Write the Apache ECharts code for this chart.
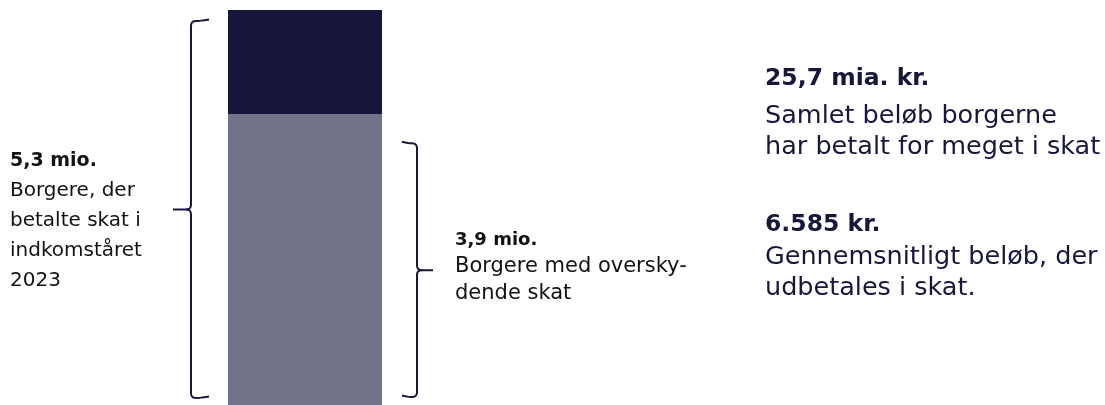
<!DOCTYPE html>
<html>
<head>
<meta charset="utf-8">
<script src="https://cdn.jsdelivr.net/npm/echarts@6/dist/echarts.min.js"></script>
<style>
html,body{margin:0;padding:0;background:#fff;}
#c{width:1105px;height:405px;}
</style>
</head>
<body>
<div id="c"></div>
<script>
// ---- data ----
const categories = ['Borgere 2023'];
const overskydendeSkat = [3.9];   // mio. borgere med overskydende skat
const oevrigeBorgere = [1.4];     // resten af de 5,3 mio.
const totalBorgere = 5.3;
const leftLines = ['5,3 mio.', 'Borgere, der', 'betalte skat i', 'indkomståret', '2023'];
const midLines = ['3,9 mio.', 'Borgere med oversky-', 'dende skat'];
const rightBlock1 = ['25,7 mia. kr.', 'Samlet beløb borgerne', 'har betalt for meget i skat'];
const rightBlock2 = ['6.585 kr.', 'Gennemsnitligt beløb, der', 'udbetales i skat.'];

const NAVY = '#17173d';
const GREY = '#727289';
const FONT = '"DejaVu Sans", sans-serif';

const chart = echarts.init(document.getElementById('c'));
chart.setOption({
  animation: false,
  grid: {left: 228, right: 723, top: 10, bottom: 0},
  xAxis: {type: 'category', data: categories, show: false},
  yAxis: {type: 'value', min: 0, max: totalBorgere, show: false},
  series: [
    {type: 'bar', stack: 't', data: overskydendeSkat, barWidth: '100%', itemStyle: {color: GREY}},
    {type: 'bar', stack: 't', data: oevrigeBorgere, barWidth: '100%', itemStyle: {color: NAVY}}
  ]
});

const yTop = chart.convertToPixel({gridIndex: 0}, [0, totalBorgere])[1];
const yBot = chart.convertToPixel({gridIndex: 0}, [0, 0])[1];
const ySplit = chart.convertToPixel({gridIndex: 0}, [0, overskydendeSkat[0]])[1];
const xc = chart.convertToPixel({gridIndex: 0}, [0, 0])[0];
const halfBand = 77;
const barL = xc - halfBand, barR = xc + halfBand;

function quad(p0, c, p1, n) {
  const out = [];
  for (let i = 1; i <= n; i++) {
    const t = i / n, u = 1 - t;
    out.push([u * u * p0[0] + 2 * u * t * c[0] + t * t * p1[0], u * u * p0[1] + 2 * u * t * c[1] + t * t * p1[1]]);
  }
  return out;
}
function brace(xv, xh, xt, y1, y2, r) {
  const h = Math.sign(xh - xv), d = -h, ym = (y1 + y2) / 2;
  let a = [[xh, y1 - 1.5]];
  a = a.concat(quad(a[a.length - 1], [xv + h * 8, y1], [xv + h * r, y1], 4));
  a = a.concat(quad([xv + h * r, y1], [xv, y1], [xv, y1 + r], 6));
  a.push([xv, ym - r]);
  a = a.concat(quad([xv, ym - r], [xv, ym], [xv + d * r, ym], 6));
  a.push([xt, ym]);
  let b = [[xv + d * r, ym]];
  b = b.concat(quad([xv + d * r, ym], [xv, ym], [xv, ym + r], 6));
  b.push([xv, y2 - r]);
  b = b.concat(quad([xv, y2 - r], [xv, y2], [xv + h * r, y2], 6));
  b = b.concat(quad([xv + h * r, y2], [xv + h * 8, y2], [xh, y2 - 1.5], 4));
  const st = {stroke: NAVY, lineWidth: 2, fill: null, lineJoin: 'round'};
  return [
    {type: 'polyline', silent: true, shape: {points: a}, style: st},
    {type: 'polyline', silent: true, shape: {points: b}, style: st}
  ];
}

// baselines given; 'bottom' alignment approximated with a descent offset
function lines(arr, x, baselines, boldSize, size, color) {
  return arr.map((t, i) => {
    const fs = i === 0 ? boldSize : size;
    return {
      type: 'text', x: x, y: baselines[i] - 0.36 * fs, silent: true,
      style: {text: t, font: (i === 0 ? 'bold ' : '') + fs + 'px ' + FONT, fill: color,
        verticalAlign: 'middle', textVerticalAlign: 'middle'}
    };
  });
}

const graphics = [].concat(
  brace(barL - 37, barL - 19, barL - 55, yTop + 11, yBot - 7, 5),
  brace(barR + 35, barR + 20, barR + 51, ySplit + 29, yBot - 8, 5),
  lines(leftLines, 10, [168, 198, 228, 258, 288], 19, 20, '#121212'),
  lines(midLines, 455, [247, 274, 301], 18, 21, '#121212'),
  lines(rightBlock1, 765, [87, 126, 157], 23.5, 25.5, NAVY),
  lines(rightBlock2, 765, [233, 267, 298], 23.5, 25.5, NAVY)
);
chart.setOption({graphic: graphics});
</script>
</body>
</html>
